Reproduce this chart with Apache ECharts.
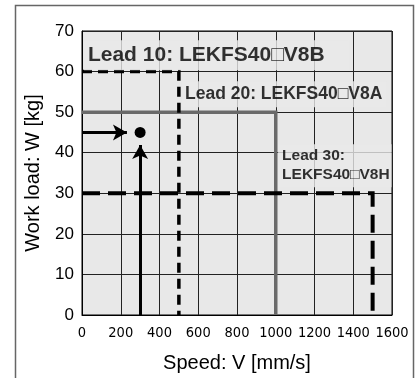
<!DOCTYPE html>
<html>
<head>
<meta charset="utf-8">
<style>
  html, body { margin: 0; padding: 0; background: #ffffff; }
  #chart { width: 420px; height: 378px; }
</style>
<script src="https://cdn.jsdelivr.net/npm/echarts@6/dist/echarts.min.js"></script>
</head>
<body>
<div id="chart"></div>
<script>
// ---- data ----
const xTicks = [0, 200, 400, 600, 800, 1000, 1200, 1400, 1600];
const yTicks = [0, 10, 20, 30, 40, 50, 60, 70];
const lead10 = [[0, 60], [500, 60], [500, 0]];
const lead20 = [[0, 50], [1000, 50], [1000, 0]];
const lead30 = [[0, 30], [1500, 30], [1500, 0]];
const examplePoint = [300, 45];
const arrowH = [[0, 45], [232, 45]];
const arrowV = [[300, 0], [300, 41.9]];
const labelLead10 = 'Lead 10: LEKFS40\u25A1V8B';
const labelLead20 = 'Lead 20: LEKFS40\u25A1V8A';
const labelLead30 = 'Lead 30:\nLEKFS40\u25A1V8H';
const labelLead10Pos = [10, 64.0];
const labelLead20Pos = [516, 54.4];
const labelLead30Pos = [1012, 36.8];

const PLOT_BG = '#e8e8e8';
const SANS = 'Liberation Sans, Arial, sans-serif';
const COND = "'DejaVu Sans Condensed', 'Liberation Sans Narrow', sans-serif";
const chart = echarts.init(document.getElementById('chart'), null, { renderer: 'canvas' });

function textSeries(pos, text, font, size, padding) {
  return {
    type: 'scatter', data: [pos], symbolSize: 0, silent: true, z: 5,
    label: {
      show: true, position: [0, 0], align: 'left', verticalAlign: 'middle',
      formatter: text, color: '#000', fontWeight: 'bold', fontFamily: font,
      fontSize: size, lineHeight: Math.round(size * 1.25), backgroundColor: PLOT_BG, padding: padding
    }
  };
}

chart.setOption({
  animation: false,
  graphic: [{
    type: 'rect', left: 13, top: 3, shape: { width: 398, height: 420 },
    style: { fill: 'none', stroke: '#666', lineWidth: 1.5 }, silent: true
  }],
  grid: {
    left: 82, right: 28, top: 31, bottom: 59,
    show: true, backgroundColor: PLOT_BG, borderColor: '#000', borderWidth: 1
  },
  xAxis: {
    type: 'value', min: xTicks[0], max: xTicks[xTicks.length - 1], interval: 200,
    name: 'Speed: V [mm/s]', nameLocation: 'middle', nameGap: 38,
    nameTextStyle: { fontSize: 20, color: '#000', fontFamily: SANS },
    axisLine: { show: true, lineStyle: { color: '#000', width: 1 } },
    axisTick: { show: false },
    axisLabel: { color: '#000', fontSize: 14.5, margin: 11, fontFamily: COND,
      formatter: v => xTicks.includes(v) ? String(v) : '' },
    splitLine: { show: true, lineStyle: { color: '#222', width: 1 } }
  },
  yAxis: {
    type: 'value', min: yTicks[0], max: yTicks[yTicks.length - 1], interval: 10,
    name: 'Work load: W [kg]', nameLocation: 'middle', nameGap: 39,
    nameTextStyle: { fontSize: 20, color: '#000', fontFamily: SANS },
    axisLine: { show: true, lineStyle: { color: '#000', width: 1 } },
    axisTick: { show: false },
    axisLabel: { color: '#000', fontSize: 17, margin: 8, fontFamily: SANS,
      formatter: v => yTicks.includes(v) ? String(v) : '' },
    splitLine: { show: true, lineStyle: { color: '#222', width: 1 } }
  },
  series: [
    { type: 'line', data: lead20, symbol: 'none', z: 3,
      lineStyle: { color: '#6a6a6a', width: 3.5, cap: 'butt', join: 'miter' } },
    { type: 'line', data: lead10, symbol: 'none', z: 4,
      lineStyle: { color: '#000', width: 3.5, type: [10, 6], cap: 'butt', join: 'miter' } },
    { type: 'line', data: lead30, symbol: 'none', z: 4,
      lineStyle: { color: '#000', width: 4, type: [18, 8], cap: 'butt', join: 'miter' } },
    { type: 'line', data: [], symbol: 'none', z: 6,
      markLine: {
        silent: true, symbol: ['none', 'arrow'], symbolSize: [12, 14],
        label: { show: false },
        lineStyle: { color: '#000', width: 3, type: 'solid', opacity: 1 },
        itemStyle: { color: '#000', opacity: 1 },
        data: [
          [{ coord: arrowH[0] }, { coord: arrowH[1] }],
          [{ coord: arrowV[0] }, { coord: arrowV[1] }]
        ]
      } },
    { type: 'scatter', data: [examplePoint], symbol: 'circle', symbolSize: 11, z: 6,
      itemStyle: { color: '#000', opacity: 1 } },
    textSeries(labelLead10Pos, labelLead10, SANS, 21, [2, 24, 2, 4]),
    textSeries(labelLead20Pos, labelLead20, SANS, 17.5, [2, 4, 2, 3]),
    textSeries(labelLead30Pos, labelLead30, SANS, 15.5, [2, 2, 3, 4])
  ]
});
</script>
</body>
</html>
